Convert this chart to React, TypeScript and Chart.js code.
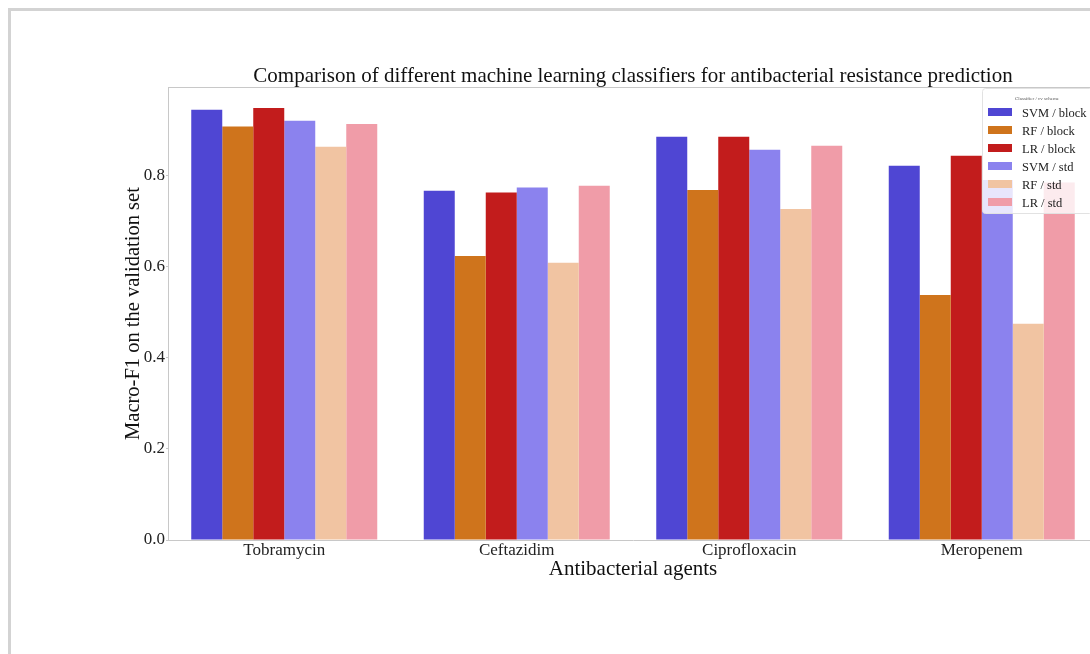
import React, { useEffect, useRef } from 'react';
import { Chart, registerables } from 'chart.js';

Chart.register(...registerables);

const categories = ['Tobramycin', 'Ceftazidim', 'Ciprofloxacin', 'Meropenem'];
const seriesLabels = ['SVM / block', 'RF / block', 'LR / block', 'SVM / std', 'RF / std', 'LR / std'];
const svmBlock = [0.945, 0.767, 0.886, 0.822];
const rfBlock = [0.908, 0.624, 0.769, 0.538];
const lrBlock = [0.949, 0.763, 0.886, 0.844];
const svmStd = [0.921, 0.774, 0.857, 0.791];
const rfStd = [0.864, 0.609, 0.727, 0.475];
const lrStd = [0.914, 0.778, 0.866, 0.785];
const yTicks = [0, 0.2, 0.4, 0.6, 0.8];
const seriesColors = ['#4f46d3', '#cf741c', '#c21c1c', '#8b82ee', '#f1c4a2', '#f09ca8'];

const chartTitle = 'Comparison of different machine learning classifiers for antibacterial resistance prediction';
const xTitle = 'Antibacterial agents';
const yTitle = 'Macro-F1 on the validation set';
const legendTitle = 'Classifier / cv scheme';

const SERIF = "'Liberation Serif', 'DejaVu Serif', serif";
const SPINE = '#c8c8c8';

const spinePlugin = {
  id: 'spines',
  afterDatasetsDraw(chart: any) {
    const { ctx, chartArea } = chart;
    ctx.save();
    ctx.strokeStyle = SPINE;
    ctx.lineWidth = 1;
    ctx.beginPath();
    ctx.moveTo(chartArea.left, chartArea.top + 0.5);
    ctx.lineTo(chartArea.right, chartArea.top + 0.5);
    ctx.moveTo(chartArea.right - 0.5, chartArea.top);
    ctx.lineTo(chartArea.right - 0.5, chartArea.bottom);
    ctx.stroke();
    ctx.restore();
  },
};

const legendPlugin = {
  id: 'insideLegend',
  afterDraw(chart: any) {
    const { ctx, chartArea } = chart;
    const datasets = chart.data.datasets;
    const x0 = chartArea.right - 116;
    const y0 = chartArea.top + 1;
    const w = 110;
    const h = 125;
    ctx.save();
    ctx.fillStyle = 'rgba(255,255,255,0.8)';
    ctx.strokeStyle = '#e2e2e2';
    ctx.lineWidth = 1;
    ctx.beginPath();
    (ctx as any).roundRect(x0 + 0.5, y0 + 0.5, w, h, 3);
    ctx.fill();
    ctx.stroke();
    ctx.fillStyle = '#555';
    ctx.font = `5px ${SERIF}`;
    ctx.textAlign = 'center';
    ctx.textBaseline = 'middle';
    ctx.fillText(legendTitle, x0 + 55, y0 + 11);
    ctx.textAlign = 'left';
    ctx.font = `12.5px ${SERIF}`;
    datasets.forEach((ds: any, i: number) => {
      const cy = y0 + 24 + i * 18;
      ctx.fillStyle = ds.backgroundColor;
      ctx.fillRect(x0 + 6, cy - 4, 24, 8);
      ctx.fillStyle = '#222';
      ctx.fillText(ds.label, x0 + 40, cy + 1.5);
    });
    ctx.restore();
  },
};

export default function App() {
  const canvasRef = useRef<HTMLCanvasElement | null>(null);

  useEffect(() => {
    if (!canvasRef.current) return;
    const values = [svmBlock, rfBlock, lrBlock, svmStd, rfStd, lrStd];
    const chart = new Chart(canvasRef.current, {
      type: 'bar',
      data: {
        labels: categories,
        datasets: values.map((v, i) => ({
          label: seriesLabels[i],
          data: v,
          backgroundColor: seriesColors[i],
          borderWidth: 0,
          categoryPercentage: 0.8,
          barPercentage: 1.0,
        })),
      },
      options: {
        responsive: false,
        animation: false,
        devicePixelRatio: 1,
        layout: { padding: { left: 121, right: 32, top: 0, bottom: 72 } },
        plugins: {
          legend: { display: false },
          tooltip: { enabled: false },
          title: {
            display: true,
            text: chartTitle,
            fullSize: false,
            color: '#111',
            font: { family: SERIF, size: 21, weight: 'normal', lineHeight: 1 },
            padding: { top: 66, bottom: 0 },
          },
        },
        scales: {
          x: {
            afterFit: (scale: any) => { scale.height = 42; },
            grid: { display: false, drawTicks: false },
            border: { display: true, color: SPINE },
            ticks: { color: '#222', padding: 0, font: { family: SERIF, size: 17 } },
            title: {
              display: true,
              text: xTitle,
              color: '#111',
              font: { family: SERIF, size: 21 },
              padding: { top: 0, bottom: 0 },
            },
          },
          y: {
            min: 0,
            max: 0.995,
            afterFit: (scale: any) => { scale.width = 47; },
            afterBuildTicks: (scale: any) => { scale.ticks = yTicks.map((v) => ({ value: v })); },
            grid: { display: true, drawOnChartArea: false, drawTicks: true, tickLength: 2, color: SPINE },
            border: { display: true, color: SPINE },
            ticks: {
              color: '#222',
              padding: 1,
              font: { family: SERIF, size: 17 },
              callback: (v: any) => Number(v).toFixed(1),
            },
            title: {
              display: true,
              text: yTitle,
              color: '#111',
              font: { family: SERIF, size: 20.5 },
              padding: { top: 0, bottom: 0 },
            },
          },
        },
      } as any,
      plugins: [spinePlugin, legendPlugin],
    });
    return () => chart.destroy();
  }, []);

  return (
    <div style={{ position: 'fixed', left: 0, top: 0, width: 1090, height: 654, overflow: 'hidden', background: '#fff' }}>
      <div style={{ position: 'absolute', left: 8, top: 8, width: 1200, height: 800, border: '3px solid #d3d3d3' }} />
      <canvas ref={canvasRef} width={1130} height={654} style={{ position: 'absolute', left: 0, top: 0 }} />
    </div>
  );
}
